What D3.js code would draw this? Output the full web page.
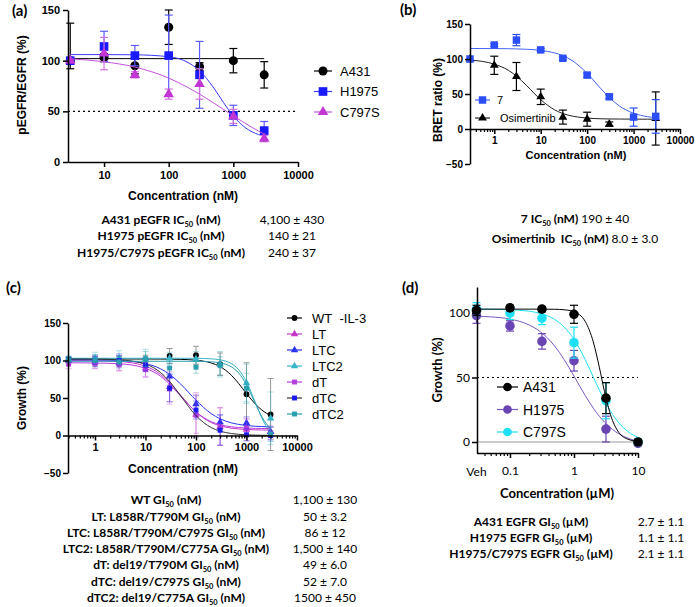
<!DOCTYPE html>
<html>
<head>
<meta charset="utf-8">
<script src="https://cdn.jsdelivr.net/npm/d3@7"></script>
<style>
  body { margin: 0; background: #fff; }
</style>
</head>
<body>
<svg id="fig" width="700" height="607"></svg>
<script>
// ---------- (a) pEGFR/EGFR ----------
var aConc = [3, 10, 30, 100, 300, 1000, 3000];
var aA431 = [100, 103, 95, 133, 94, 100, 86];
var aA431Err = [[8, 37], 4, 8, 17, 4, 12, 13];
var aH1975 = [100, 114, 105, 105, 86, 46, 31];
var aH1975Err = [0, 15, 10, 40, 33, 10, 9];
var aC797S = [100, 107, 86, 67, 77, 45, 23];
var aC797SErr = [0, 16, 3, 5, 15, 7, 3];
// fitted curves
var aFitConc = [3, 10, 30, 100, 200, 300, 500, 700, 1000, 1500, 2000, 3000];
var aFitA431 = [102, 102, 102, 102, 102, 102, 102, 102, 102, 102, 102, 102];
var aFitH1975 = [106, 106, 105.8, 103.9, 98.1, 90.1, 72.9, 58.9, 45.3, 34.3, 29.4, 25.4];
var aFitC797S = [101.8, 98.9, 93.7, 82.8, 73.4, 67.0, 58.1, 52.0, 45.5, 38.5, 33.7, 27.6];
var aXTicks = [10, 100, 1000, 10000];
var aYTicks = [0, 50, 100, 150];
var aNames = ["A431", "H1975", "C797S"];
var aTableLabels = ["A431 pEGFR IC_50 (nM)", "H1975 pEGFR IC_50 (nM)", "H1975/C797S pEGFR IC_50 (nM)"];
var aTableValues = ["4,100 ± 430", "140 ± 21", "240 ± 37"];

// ---------- (b) BRET ----------
var bConc7 = [0.3, 1, 3, 10, 30, 100, 300, 1000, 3000];
var b7 = [100, 120, 127, 113, 101, 77, 46, 17, 18];
var b7Err = [0, 2, 8, 2, 2, 3, 3, 13, 24];
var bConcOsi = [0.3, 1, 3, 10, 30, 100, 300, 3000];
var bOsi = [100, 91, 75, 46, 17, 14, 7, 15];
var bOsiErr = [0, 13, 20, 11, 10, 10, 3, 38];
var bFitConc = [0.3, 1, 2, 3, 5, 10, 20, 30, 50, 100, 200, 300, 500, 1000, 2000, 3000];
var bFit7 = [115, 114.9, 114.7, 114.4, 113.9, 112.3, 108.7, 104.7, 96.8, 79.5, 57.2, 45.0, 32.7, 22.5, 17.6, 16.2];
var bFitOsi = [98.5, 92.6, 84.0, 75.6, 61.9, 41.9, 27.3, 22.1, 18.2, 15.6, 14.6, 14.35, 14.2, 14.1, 14.0, 14.0];
var bXTicks = [1, 10, 100, 1000, 10000];
var bYTicks = [-50, 0, 50, 100, 150];
var bNames = ["7", "Osimertinib"];
var bTableLabels = ["7 IC_50 (nM)", "Osimertinib\u00a0 IC_50 (nM)"];
var bTableValues = ["190 ± 40", "8.0 ± 3.0"];

// ---------- (c) growth, Ba/F3 ----------
var cConc = [0.3, 1, 3, 10, 30, 100, 300, 1000, 3000];
var cWT = [101, 101, 101, 102, 106, 107, 95, 55, 28];
var cWTErr = [3, 4, 5, 5, 10, 12, 15, 42, 48];
var cLT = [100, 98, 97, 90, 65, 28, 12, 8, 5];
var cLTErr = [5, 8, 10, 12, 20, 25, 25, 15, 8];
var cLTC = [101, 101, 101, 93, 79, 42, 18, 17, 5];
var cLTCErr = [4, 6, 8, 8, 12, 12, 10, 8, 6];
var cLTC2 = [102, 103, 103, 103, 103, 102, 95, 70, 23];
var cLTC2Err = [4, 8, 10, 12, 8, 10, 17, 25, 35];
var cDT = [95, 95, 94, 88, 62, 27, 12, 10, 3];
var cDTErr = [6, 6, 8, 10, 20, 30, 25, 12, 8];
var cDTC = [101, 100, 100, 94, 63, 34, 7, 1, 0];
var cDTCErr = [3, 5, 6, 8, 18, 12, 20, 8, 6];
var cDTC2 = [101, 100, 98, 102, 90, 91, 93, 63, 2];
var cDTC2Err = [4, 8, 8, 10, 8, 8, 12, 20, 10];
var cFitConc = [0.3, 1, 3, 10, 20, 30, 50, 100, 200, 300, 500, 700, 1000, 1500, 2000, 3000];
var cFitWT = [102, 102, 102, 102, 101.9, 101.8, 101.5, 100.4, 96.7, 91.8, 80.4, 69.3, 56.0, 41.9, 34.1, 26.6];
var cFitLT = [100, 99.7, 98.7, 92.4, 81.2, 70.5, 53.5, 31.3, 17.3, 12.9, 9.85, 8.74, 8.03, 7.56, 7.37, 7.2];
var cFitLTC = [101, 100.8, 100.0, 95.9, 88.8, 81.5, 68.4, 47.1, 29.2, 22.3, 16.9, 14.8, 13.3, 12.3, 11.9, 11.5];
var cFitLTC2 = [103, 103, 103, 103, 103, 103, 103, 102.9, 102.2, 100.9, 95.9, 87.7, 71.6, 44.0, 23.7, 2.7];
var cFitDT = [97, 96.7, 95.7, 89.6, 78.8, 68.5, 52.3, 31.5, 18.5, 14.4, 11.6, 10.6, 9.94, 9.52, 9.34, 9.2];
var cFitDTC = [102, 101.8, 100.9, 95.2, 83.8, 72.1, 52.6, 26.5, 10.6, 5.8, 2.66, 1.57, 0.9, 0.5, 0.3, 0.2];
var cFitDTC2 = [99, 99, 99, 99, 99, 99, 99, 98.9, 98.2, 96.8, 91.6, 83.4, 67.7, 42.5, 25.3, 8.5];
var cXTicks = [1, 10, 100, 1000, 10000];
var cYTicks = [-50, 0, 50, 100, 150];
var cNames = ["WT\u00a0\u00a0-IL-3", "LT", "LTC", "LTC2", "dT", "dTC", "dTC2"];
var cTableLabels = ["WT GI_50 (nM)", "LT: L858R/T790M GI_50 (nM)", "LTC: L858R/T790M/C797S GI_50 (nM)",
  "LTC2: L858R/T790M/C775A GI_50 (nM)", "dT: del19/T790M GI_50 (nM)", "dTC: del19/C797S GI_50 (nM)",
  "dTC2: del19/C775A GI_50 (nM)"];
var cTableValues = ["1,100 ± 130", "50 ± 3.2", "86 ± 12", "1,500 ± 140", "49 ± 6.0", "52 ± 7.0", "1500 ± 450"];

// ---------- (d) growth, cell lines (µM) ----------
var dConc = [0.03, 0.1, 0.316, 1, 3.16, 10];   // first = vehicle
var dA431 = [102, 104, 103, 99, 34, 0];
var dA431Err = [4, 2, 2, 7, 12, 0];
var dH1975 = [98, 90, 78, 63, 10, -1];
var dH1975Err = [6, 4, 6, 8, 10, 0];
var dC797S = [103, 100, 96, 77, 32, 0];
var dC797SErr = [5, 5, 5, 12, 14, 0];
var dFitConc = [0.03, 0.05, 0.1, 0.2, 0.3, 0.5, 0.7, 1, 1.5, 2, 2.5, 3, 4, 5, 7, 10];
var dFitA431 = [103, 103, 103, 103, 103, 102.9, 102.5, 101.0, 93.4, 77.7, 57.5, 39.0, 16.6, 7.5, 2.1, 0.5];
var dFitH1975 = [97.5, 97.0, 95.3, 90.7, 85.4, 74.3, 64.0, 51.1, 36.0, 26.3, 19.8, 15.4, 9.7, 6.4, 2.9, 0.6];
var dFitC797S = [103, 102.9, 102.5, 101.4, 99.6, 95.0, 89.2, 79.6, 63.8, 50.5, 40.1, 32.2, 21.4, 14.9, 8.0, 3.5];
var dXTicks = [0.03, 0.1, 1, 10];
var dXTickLabels = ["Veh", "0.1", "1", "10"];
var dYTicks = [0, 50, 100];
var dNames = ["A431", "H1975", "C797S"];
var dTableLabels = ["A431 EGFR GI_50 (µM)", "H1975 EGFR GI_50 (µM)", "H1975/C797S EGFR GI_50 (µM)"];
var dTableValues = ["2.7 ± 1.1", "1.1 ± 1.1", "2.1 ± 1.1"];


var ARIAL = '"Liberation Sans", Arial, sans-serif';
var CAL = 'Lato, "Open Sans", sans-serif';
var svg = d3.select("#fig");

function styleAxis(g, font, size, weight) {
  g.attr("font-family", null).attr("font-size", null);
  g.select(".domain").attr("stroke", "#000").attr("stroke-width", 1.5);
  g.selectAll(".tick line").attr("stroke", "#000").attr("stroke-width", 1.5);
  g.selectAll(".tick text").attr("fill", "#000")
    .style("font-family", font).style("font-size", size + "px").style("font-weight", weight);
}

function minorAxis(g, x, majors, y0, len) {
  var minors = x.ticks(40).filter(function(v) {
    return majors.every(function(m) { return Math.abs(m - v) / m > 0.01; });
  });
  g.append("g").attr("transform", "translate(0," + y0 + ")")
    .call(d3.axisBottom(x).tickValues(minors).tickSize(len).tickFormat("").tickSizeOuter(0))
    .call(function(s) {
      s.select(".domain").remove();
      s.selectAll(".tick line").attr("stroke", "#000").attr("stroke-width", 1.2);
    });
}

// one data series: fitted curve, error bars, markers
function drawSeries(g, x, y, s) {
  var line = d3.line()
    .x(function(d) { return x(d[0]); })
    .y(function(d) { return y(d[1]); })
    .curve(d3.curveMonotoneX);
  g.append("path").datum(d3.zip(s.fitX, s.fitY))
    .attr("d", line).attr("fill", "none")
    .attr("stroke", s.lineColor || s.color).attr("stroke-width", s.lineWidth || 1);

  var eg = g.append("g").attr("stroke", s.errColor || s.color)
    .attr("stroke-width", s.errWidth || 1.2).attr("opacity", s.errOpacity || 1);
  s.xs.forEach(function(c, i) {
    var e = s.err[i];
    var lo = Array.isArray(e) ? e[0] : e, hi = Array.isArray(e) ? e[1] : e;
    if (!lo && !hi) return;
    var cx = x(c), w = s.cap / 2;
    eg.append("line").attr("x1", cx).attr("x2", cx).attr("y1", y(s.ys[i] - lo)).attr("y2", y(s.ys[i] + hi));
    eg.append("line").attr("x1", cx - w).attr("x2", cx + w).attr("y1", y(s.ys[i] + hi)).attr("y2", y(s.ys[i] + hi));
    eg.append("line").attr("x1", cx - w).attr("x2", cx + w).attr("y1", y(s.ys[i] - lo)).attr("y2", y(s.ys[i] - lo));
  });
  g.append("g").selectAll("path").data(d3.zip(s.xs, s.ys)).enter().append("path")
    .attr("transform", function(d) { return "translate(" + x(d[0]) + "," + y(d[1]) + ")"; })
    .attr("d", d3.symbol(s.symbol, s.size)).attr("fill", s.color);
}

function legendRow(g, x0, x1, tx, yy, label, s, fs) {
  g.append("line").attr("x1", x0).attr("x2", x1).attr("y1", yy).attr("y2", yy)
    .attr("stroke", s.lineColor || s.color).attr("stroke-width", 1.2);
  g.append("path").attr("transform", "translate(" + ((x0 + x1) / 2) + "," + yy + ")")
    .attr("d", d3.symbol(s.symbol, s.legendSize || s.size)).attr("fill", s.color);
  g.append("text").attr("x", tx).attr("y", yy).attr("dy", "0.36em")
    .style("font-family", ARIAL).style("font-size", fs + "px").text(label);
}

function subText(t, str) {
  var parts = str.split("_50");
  t.append("tspan").text(parts[0]);
  t.append("tspan").attr("font-size", "0.62em").attr("dy", 3).text("50");
  t.append("tspan").attr("dy", -3).text(parts[1]);
}

function table(labels, values, lx, vx, y0, dy) {
  labels.forEach(function(l, i) {
    var t = svg.append("text").attr("x", lx).attr("y", y0 + i * dy).attr("dy", "0.35em")
      .attr("text-anchor", "middle").style("font-family", CAL).style("font-size", "12px").style("font-weight", "bold");
    subText(t, l);
    svg.append("text").attr("x", vx).attr("y", y0 + i * dy).attr("dy", "0.35em")
      .attr("text-anchor", "middle").style("font-family", CAL).style("font-size", "12px").text(values[i]);
  });
}

function panelLabel(txt, x, y) {
  svg.append("text").attr("x", x).attr("y", y).style("font-family", CAL)
    .style("font-size", "15px").style("font-weight", "bold").text(txt);
}

function axisTitle(txt, x, y, rot, font, size) {
  svg.append("text").attr("transform", "translate(" + x + "," + y + ")" + (rot ? " rotate(-90)" : ""))
    .attr("text-anchor", "middle").attr("dy", "0.35em")
    .style("font-family", font).style("font-size", size + "px").style("font-weight", "bold").text(txt);
}

// ================= panel (a) =================
(function() {
  var x = d3.scaleLog().domain([2.77, 10000]).range([68, 298]);
  var y = d3.scaleLinear().domain([0, 150]).range([162, 10]);
  var g = svg.append("g");
  g.append("line").attr("x1", 68).attr("x2", 298).attr("y1", y(50)).attr("y2", y(50))
    .attr("stroke", "#000").attr("stroke-width", 1.2).attr("stroke-dasharray", "2,3");
  var series = [
    {xs: aConc, ys: aA431, err: aA431Err, fitX: [3, 3000], fitY: [aFitA431[0], aFitA431[aFitA431.length - 1]],
     color: "#000", symbol: d3.symbolCircle, size: 64, cap: 8},
    {xs: aConc, ys: aH1975, err: aH1975Err, fitX: aFitConc, fitY: aFitH1975,
     color: "#1a1aff", lineColor: "#3b3bff", errColor: "#5a5aff", symbol: d3.symbolSquare, size: 75, cap: 8},
    {xs: aConc, ys: aC797S, err: aC797SErr, fitX: aFitConc, fitY: aFitC797S,
     color: "#c236d4", lineColor: "#c552dc", errColor: "#d070e0", symbol: d3.symbolTriangle, size: 48, cap: 8}
  ];
  series.forEach(function(s) { drawSeries(g, x, y, s); });
  g.append("g").attr("transform", "translate(0,162)")
    .call(d3.axisBottom(x).tickValues(aXTicks).tickFormat(d3.format("d")).tickSize(5).tickSizeOuter(0).tickPadding(4))
    .call(styleAxis, ARIAL, 11, "bold");
  g.append("g").attr("transform", "translate(68,0)")
    .call(d3.axisLeft(y).tickValues(aYTicks).tickSize(5).tickSizeOuter(0).tickPadding(3))
    .call(styleAxis, ARIAL, 11, "bold");
  series.forEach(function(s, i) { legendRow(g, 314, 332, 340, 71 + i * 20.5, aNames[i], s, 13); });
  axisTitle("Concentration (nM)", 183, 196, false, ARIAL, 12);
  axisTitle("pEGFR/EGFR (%)", 22, 85, true, ARIAL, 12);
  panelLabel("(a)", 12, 16);
  table(aTableLabels, aTableValues, 161, 292, 219.5, 16.5);
})();

// ================= panel (b) =================
(function() {
  var x = d3.scaleLog().domain([0.3, 10000]).range([470, 680]);
  var y = d3.scaleLinear().domain([-50, 150]).range([164, 24]);
  var g = svg.append("g");
  var s7 = {xs: bConc7, ys: b7, err: b7Err, fitX: bFitConc, fitY: bFit7,
    color: "#2b4ef7", lineColor: "#4564f5", symbol: d3.symbolSquare, size: 56, cap: 8};
  var sOsi = {xs: bConcOsi, ys: bOsi, err: bOsiErr, fitX: bFitConc, fitY: bFitOsi,
    color: "#000", lineColor: "#222", symbol: d3.symbolTriangle, size: 34, cap: 8};
  drawSeries(g, x, y, sOsi);
  drawSeries(g, x, y, s7);
  minorAxis(g, x, bXTicks, y(0), 3);
  g.append("g").attr("transform", "translate(0," + y(0) + ")")
    .call(d3.axisBottom(x).tickValues(bXTicks).tickFormat(d3.format("d")).tickSize(5).tickSizeOuter(0).tickPadding(3))
    .call(styleAxis, ARIAL, 10, "bold");
  g.append("g").attr("transform", "translate(470,0)")
    .call(d3.axisLeft(y).tickValues(bYTicks).tickSize(5).tickSizeOuter(0).tickPadding(2))
    .call(styleAxis, ARIAL, 10, "bold");
  legendRow(g, 475, 490, 497, 100, bNames[0], s7, 11);
  legendRow(g, 475, 490, 500, 118, bNames[1], sOsi, 11);
  axisTitle("Concentration (nM)", 576, 155, false, ARIAL, 11);
  axisTitle("BRET ratio (%)", 438, 100, true, ARIAL, 12);
  panelLabel("(b)", 400, 15);
  bTableLabels.forEach(function(l, i) {
    var t = svg.append("text").attr("x", 575).attr("y", 219 + i * 20).attr("dy", "0.35em")
      .attr("text-anchor", "middle").style("font-family", CAL).style("font-size", "12px");
    var b = t.append("tspan").style("font-weight", "bold");
    subText(b, l);
    t.append("tspan").text(" " + bTableValues[i]);
  });
})();

// ================= panel (c) =================
(function() {
  var x = d3.scaleLog().domain([0.3, 10000]).range([68.6, 297]);
  var y = d3.scaleLinear().domain([-50, 150]).range([473, 323]);
  var g = svg.append("g");
  var defs = [
    [cWT, cWTErr, cFitWT, "#000", "#000", d3.symbolCircle],
    [cLT, cLTErr, cFitLT, "#c535c8", "#c535c8", d3.symbolTriangle],
    [cLTC, cLTCErr, cFitLTC, "#2a35f0", "#2a35f0", d3.symbolTriangle],
    [cLTC2, cLTC2Err, cFitLTC2, "#38b5c8", "#38b5c8", d3.symbolTriangle],
    [cDT, cDTErr, cFitDT, "#b43ee0", "#b43ee0", d3.symbolSquare],
    [cDTC, cDTCErr, cFitDTC, "#1a1af0", "#333", d3.symbolSquare],
    [cDTC2, cDTC2Err, cFitDTC2, "#2a9fb0", "#2a9fb0", d3.symbolSquare]
  ];
  var series = defs.map(function(d) {
    return {xs: cConc, ys: d[0], err: d[1], fitX: cFitConc, fitY: d[2], color: d[3], lineColor: d[4],
      symbol: d[5], size: d[5] === d3.symbolCircle ? 26 : 24, cap: 6, errOpacity: 0.4, errWidth: 1};
  });
  series.forEach(function(s) { drawSeries(g, x, y, s); });
  minorAxis(g, x, cXTicks, y(0), 3);
  g.append("g").attr("transform", "translate(0," + y(0) + ")")
    .call(d3.axisBottom(x).tickValues(cXTicks).tickFormat(d3.format("d")).tickSize(5).tickSizeOuter(0).tickPadding(3))
    .call(styleAxis, ARIAL, 11, "bold");
  g.append("g").attr("transform", "translate(68,0)")
    .call(d3.axisLeft(y).tickValues(cYTicks).tickSize(5).tickSizeOuter(0).tickPadding(2))
    .call(styleAxis, ARIAL, 10, "bold");
  series.forEach(function(s, i) { legendRow(g, 287, 302, 312, 318 + i * 16, cNames[i], s, 13); });
  axisTitle("Concentration (nM)", 183, 469, false, ARIAL, 12);
  axisTitle("Growth (%)", 22, 398, true, ARIAL, 12);
  panelLabel("(c)", 6, 293);
  table(cTableLabels, cTableValues, 166, 325, 500, 16.3);
})();

// ================= panel (d) =================
(function() {
  var x = d3.scaleLog().domain([0.03, 10]).range([476.5, 638]);
  var y = d3.scaleLinear().domain([0, 100]).range([442, 313]);
  var g = svg.append("g");
  g.append("line").attr("x1", 477).attr("x2", 638).attr("y1", y(0)).attr("y2", y(0))
    .attr("stroke", "#999").attr("stroke-width", 1);
  g.append("line").attr("x1", 477).attr("x2", 638).attr("y1", y(50)).attr("y2", y(50))
    .attr("stroke", "#000").attr("stroke-width", 1.2).attr("stroke-dasharray", "2,3");
  var sA = {xs: dConc, ys: dA431, err: dA431Err, fitX: dFitConc, fitY: dFitA431,
    color: "#000", symbol: d3.symbolCircle, size: 72, cap: 8};
  var sH = {xs: dConc, ys: dH1975, err: dH1975Err, fitX: dFitConc, fitY: dFitH1975,
    color: "#6b44b3", lineColor: "#7b58c0", symbol: d3.symbolCircle, size: 72, cap: 8};
  var sC = {xs: dConc, ys: dC797S, err: dC797SErr, fitX: dFitConc, fitY: dFitC797S,
    color: "#1ee0f5", symbol: d3.symbolCircle, size: 72, cap: 8};
  drawSeries(g, x, y, sH);
  drawSeries(g, x, y, sC);
  drawSeries(g, x, y, sA);
  var yAxisBottom = 453;
  minorAxis(g, x, dXTicks, yAxisBottom, 3);
  g.append("g").attr("transform", "translate(0," + yAxisBottom + ")")
    .call(d3.axisBottom(x).tickValues(dXTicks.slice(1)).tickFormat(function(d, i) { return dXTickLabels[i + 1]; })
      .tickSize(5).tickSizeOuter(0).tickPadding(8))
    .call(styleAxis, CAL, 12, "normal");
  g.append("text").attr("x", x(dXTicks[0])).attr("y", yAxisBottom + 19).attr("dy", "0.35em")
    .attr("text-anchor", "middle").style("font-family", CAL).style("font-size", "12px").text(dXTickLabels[0]);
  var yl = d3.scaleLinear().domain([y.invert(yAxisBottom), y.invert(287)]).range([yAxisBottom, 287]);
  g.append("g").attr("transform", "translate(477,0)")
    .call(d3.axisLeft(yl).tickValues(dYTicks).tickSize(5).tickSizeOuter(0).tickPadding(2))
    .call(styleAxis, CAL, 12, "normal");
  [sA, sH, sC].forEach(function(s, i) {
    legendRow(g, 497, 518, 523, 387 + i * 22.5, dNames[i], Object.assign({}, s, {legendSize: 60}), 14);
  });
  axisTitle("Concentration (µM)", 557, 493, false, CAL, 13);
  axisTitle("Growth (%)", 437, 370, true, CAL, 13);
  panelLabel("(d)", 402, 293);
  table(dTableLabels, dTableValues, 531, 661, 522, 16);
})();
</script>
</body>
</html>
